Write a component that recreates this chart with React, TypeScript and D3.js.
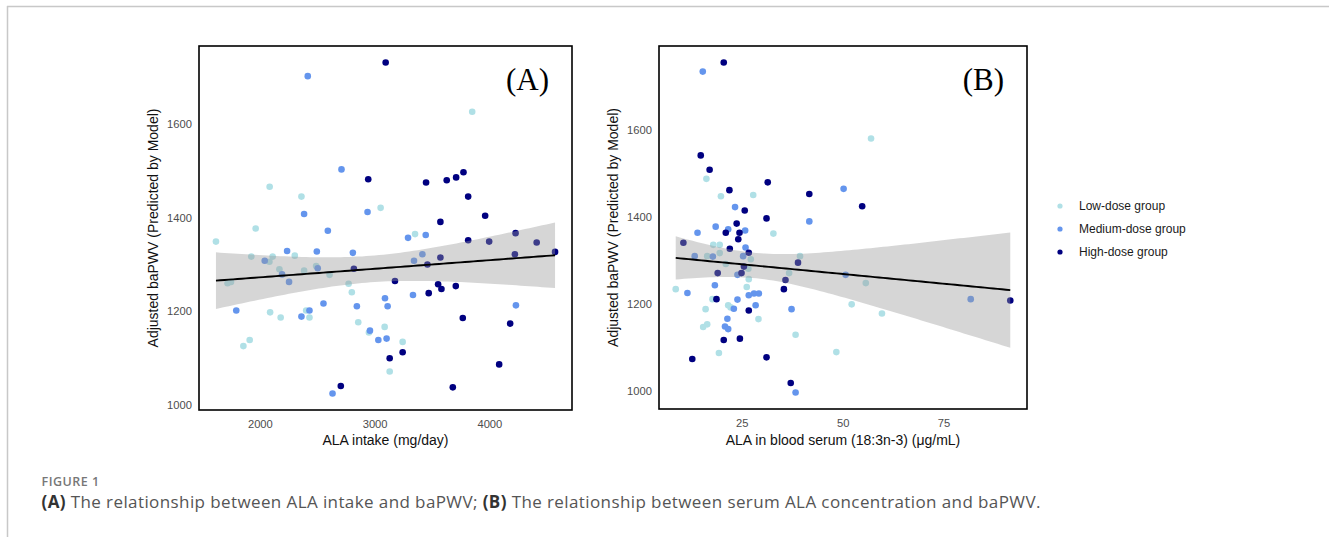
import React from "react";
import * as d3 from "d3";

// ---------- Data ----------
const groups = ["Low-dose group", "Medium-dose group", "High-dose group"];
const groupColors = ["#B0E0E6", "#6495ED", "#000080"];

// Panel A: ALA intake (mg/day) vs adjusted baPWV
const lowA: [number, number][] = [
  [1613, 1349], [1714, 1260], [1744, 1263], [1852, 1126], [1907, 1139], [1921, 1317],
  [1959, 1377], [2079, 1306], [2081, 1466], [2085, 1198], [2107, 1317], [2166, 1290],
  [2177, 1187], [2300, 1319], [2358, 1445], [2381, 1287], [2399, 1202], [2428, 1187],
  [2486, 1297], [2603, 1278], [2769, 1259], [2797, 1241], [2853, 1177], [2946, 1155],
  [3048, 1421], [3083, 1167], [3127, 1072], [3240, 1135], [3348, 1365], [3846, 1626],
];
const mediumA: [number, number][] = [
  [1790, 1202], [2038, 1308], [2189, 1279], [2233, 1329], [2250, 1263], [2358, 1189],
  [2381, 1408], [2413, 1702], [2428, 1202], [2492, 1328], [2500, 1292], [2550, 1217],
  [2588, 1372], [2629, 1025], [2707, 1503], [2806, 1325], [2841, 1211], [2934, 1412],
  [2955, 1159], [3028, 1139], [3086, 1228], [3100, 1142], [3109, 1211], [3287, 1357],
  [3330, 1235], [3339, 1308], [3412, 1322], [3441, 1363], [4227, 1213],
];
const highA: [number, number][] = [
  [2701, 1041], [2815, 1291], [2940, 1482], [3092, 1731], [3127, 1100], [3173, 1265],
  [3240, 1113], [3444, 1475], [3456, 1300], [3467, 1239], [3549, 1258], [3569, 1391],
  [3569, 1315], [3578, 1248], [3624, 1480], [3677, 1038], [3703, 1254], [3706, 1486],
  [3764, 1186], [3770, 1497], [3811, 1445], [3811, 1352], [3959, 1404], [3994, 1349],
  [4081, 1087], [4177, 1174], [4218, 1322], [4224, 1367], [4408, 1347], [4568, 1327],
];

// Panel B: serum ALA (µg/mL) vs adjusted baPWV
const lowB: [number, number][] = [
  [56.9, 1581], [16.1, 1488], [19.7, 1448], [27.7, 1451], [32.7, 1362], [17.8, 1336],
  [19.4, 1336], [16.3, 1310], [19.4, 1317], [27.1, 1303], [20.9, 1292], [26.5, 1281],
  [26.6, 1257], [39.3, 1310], [36.6, 1271], [8.5, 1234], [26.1, 1239], [17.6, 1211],
  [21.5, 1197], [22.1, 1192], [15.9, 1188], [29.0, 1165], [15.3, 1147], [16.3, 1153],
  [19.2, 1087], [38.2, 1129], [48.3, 1089], [52.1, 1199], [59.6, 1178], [55.6, 1248],
];
const mediumB: [number, number][] = [
  [15.2, 1735], [50.1, 1465], [23.2, 1423], [41.6, 1390], [13.9, 1364], [18.4, 1378],
  [21.5, 1372], [25.7, 1369], [25.8, 1330], [13.2, 1310], [17.7, 1309], [25.2, 1310],
  [23.8, 1267], [11.4, 1225], [18.2, 1243], [26.6, 1220], [27.9, 1224], [29.1, 1224],
  [23.8, 1210], [22.9, 1189], [28.3, 1197], [21.3, 1166], [20.7, 1148], [21.5, 1142],
  [37.2, 1188], [38.2, 996], [50.6, 1267], [81.6, 1211],
];
const highB: [number, number][] = [
  [20.4, 1756], [14.7, 1542], [16.9, 1509], [21.8, 1462], [31.3, 1480], [41.6, 1453],
  [54.7, 1425], [25.6, 1415], [23.6, 1385], [31.0, 1397], [20.9, 1364], [24.3, 1364],
  [24.0, 1349], [10.4, 1341], [21.9, 1327], [26.6, 1318], [25.4, 1286], [18.9, 1271],
  [24.8, 1271], [38.8, 1295], [35.7, 1255], [35.3, 1234], [18.6, 1211], [26.6, 1185],
  [20.4, 1117], [24.4, 1120], [12.6, 1073], [31.0, 1077], [37.0, 1018], [91.4, 1208],
];

const xTicksA = [2000, 3000, 4000];
const yTicksA = [1000, 1200, 1400, 1600];
const xTicksB = [25, 50, 75];
const yTicksB = [1000, 1200, 1400, 1600];

// ---------- helpers ----------
function tQuantile975(df: number) {
  const z = 1.959964;
  return (
    z +
    (z ** 3 + z) / (4 * df) +
    (5 * z ** 5 + 16 * z ** 3 + 3 * z) / (96 * df * df)
  );
}

function lmFit(pts: [number, number][]) {
  const n = pts.length;
  const mx = d3.mean(pts, (p) => p[0])!;
  const my = d3.mean(pts, (p) => p[1])!;
  let sxx = 0, sxy = 0;
  pts.forEach(([x, y]) => {
    sxx += (x - mx) ** 2;
    sxy += (x - mx) * (y - my);
  });
  const b = sxy / sxx;
  const a = my - b * mx;
  let sse = 0;
  pts.forEach(([x, y]) => (sse += (y - (a + b * x)) ** 2));
  const s = Math.sqrt(sse / (n - 2));
  const t = tQuantile975(n - 2);
  const [x0, x1] = d3.extent(pts, (p) => p[0]) as [number, number];
  const grid = d3.range(80).map((i) => x0 + ((x1 - x0) * i) / 79);
  return grid.map((x) => {
    const fit = a + b * x;
    const se = s * Math.sqrt(1 / n + (x - mx) ** 2 / sxx);
    return { x, fit, lo: fit - t * se, hi: fit + t * se };
  });
}

function expanded(ext: [number, number]): [number, number] {
  const r = ext[1] - ext[0];
  return [ext[0] - 0.05 * r, ext[1] + 0.05 * r];
}

type PanelProps = {
  box: { l: number; t: number; r: number; b: number };
  series: [number, number][][];
  xTicks: number[];
  yTicks: number[];
  xTitle: string;
  yTitle: string;
  label: string;
};

const FONT = "'Liberation Sans', Arial, sans-serif";

function Panel({ box, series, xTicks, yTicks, xTitle, yTitle, label }: PanelProps) {
  const all = series.flat();
  const x = d3
    .scaleLinear()
    .domain(expanded(d3.extent(all, (p) => p[0]) as [number, number]))
    .range([box.l, box.r]);
  const y = d3
    .scaleLinear()
    .domain(expanded(d3.extent(all, (p) => p[1]) as [number, number]))
    .range([box.b, box.t]);
  const fit = lmFit(all);
  const ribbon = d3
    .area<{ x: number; lo: number; hi: number }>()
    .x((d) => x(d.x))
    .y0((d) => y(d.lo))
    .y1((d) => y(d.hi));
  const line = d3
    .line<{ x: number; fit: number }>()
    .x((d) => x(d.x))
    .y((d) => y(d.fit));
  const cx = (box.l + box.r) / 2;
  const cy = (box.t + box.b) / 2;
  return (
    <g>
      <g>
        {series.map((pts, gi) =>
          pts.map((p, i) => (
            <circle
              key={`${gi}-${i}`}
              cx={x(p[0])}
              cy={y(p[1])}
              r={3.3}
              fill={groupColors[gi]}
            />
          ))
        )}
      </g>
      <path d={ribbon(fit) || ""} fill="#999999" fillOpacity={0.4} />
      <path d={line(fit) || ""} fill="none" stroke="#000" strokeWidth={1.9} />
      <rect
        x={box.l}
        y={box.t}
        width={box.r - box.l}
        height={box.b - box.t}
        fill="none"
        stroke="#000"
        strokeWidth={1.6}
      />
      {yTicks.map((v) => (
        <text
          key={`y${v}`}
          x={box.l - 7}
          y={y(v)}
          dy="0.35em"
          textAnchor="end"
          fontFamily={FONT}
          fontSize={11.2}
          fill="#4d4d4d"
        >
          {v}
        </text>
      ))}
      {xTicks.map((v) => (
        <text
          key={`x${v}`}
          x={x(v)}
          y={box.b + 17.5}
          textAnchor="middle"
          fontFamily={FONT}
          fontSize={11.2}
          fill="#4d4d4d"
        >
          {v}
        </text>
      ))}
      <text
        x={cx}
        y={445}
        textAnchor="middle"
        fontFamily={FONT}
        fontSize={14}
        fill="#111"
      >
        {xTitle}
      </text>
      <text
        transform={`translate(${box.l - 41},${cy}) rotate(-90)`}
        textAnchor="middle"
        fontFamily={FONT}
        fontSize={14}
        fill="#111"
      >
        {yTitle}
      </text>
      <text
        x={box.r - 23}
        y={box.t + 44}
        textAnchor="end"
        fontFamily="'Liberation Serif', 'Times New Roman', serif"
        fontSize={31}
        fill="#000"
      >
        {label}
      </text>
    </g>
  );
}

export default function App() {
  const boxA = { l: 199, t: 46, r: 572, b: 410 };
  const boxB = { l: 659, t: 46, r: 1027, b: 409 };
  const legendY = [206, 229, 252];
  return (
    <svg
      width={1329}
      height={537}
      style={{ position: "absolute", left: 0, top: 0, background: "#fff" }}
    >
      <rect x={0} y={0} width={1329} height={537} fill="#fff" />
      {/* page frame */}
      <line x1={7} y1={6.5} x2={1329} y2={6.5} stroke="#c8c8c8" strokeWidth={1.5} />
      <line x1={7.5} y1={6} x2={7.5} y2={537} stroke="#c8c8c8" strokeWidth={1.5} />

      <Panel
        box={boxA}
        series={[lowA, mediumA, highA]}
        xTicks={xTicksA}
        yTicks={yTicksA}
        xTitle="ALA intake (mg/day)"
        yTitle="Adjusted baPWV (Predicted by Model)"
        label="(A)"
      />
      <Panel
        box={boxB}
        series={[lowB, mediumB, highB]}
        xTicks={xTicksB}
        yTicks={yTicksB}
        xTitle="ALA in blood serum (18:3n-3) (μg/mL)"
        yTitle="Adjusted baPWV (Predicted by Model)"
        label="(B)"
      />

      {/* legend */}
      {groups.map((g, i) => (
        <g key={g}>
          <circle cx={1060} cy={legendY[i]} r={2.6} fill={groupColors[i]} />
          <text
            x={1079}
            y={legendY[i]}
            dy="0.35em"
            fontFamily={FONT}
            fontSize={12}
            fill="#1a1a1a"
          >
            {g}
          </text>
        </g>
      ))}

      {/* caption */}
      <text
        x={41.5}
        y={485.7}
        fontFamily="'Open Sans', sans-serif"
        fontWeight={600}
        fontSize={12.5}
        letterSpacing={0.5}
        fill="#777"
      >
        FIGURE 1
      </text>
      <text
        x={41.5}
        y={508.3}
        fontFamily="'Open Sans', sans-serif"
        fontSize={17}
        letterSpacing={0.4}
        fill="#555"
      >
        <tspan fontWeight={700} fill="#333">(A)</tspan>
        <tspan> The relationship between ALA intake and baPWV; </tspan>
        <tspan fontWeight={700} fill="#333">(B)</tspan>
        <tspan> The relationship between serum ALA concentration and baPWV.</tspan>
      </text>
    </svg>
  );
}
